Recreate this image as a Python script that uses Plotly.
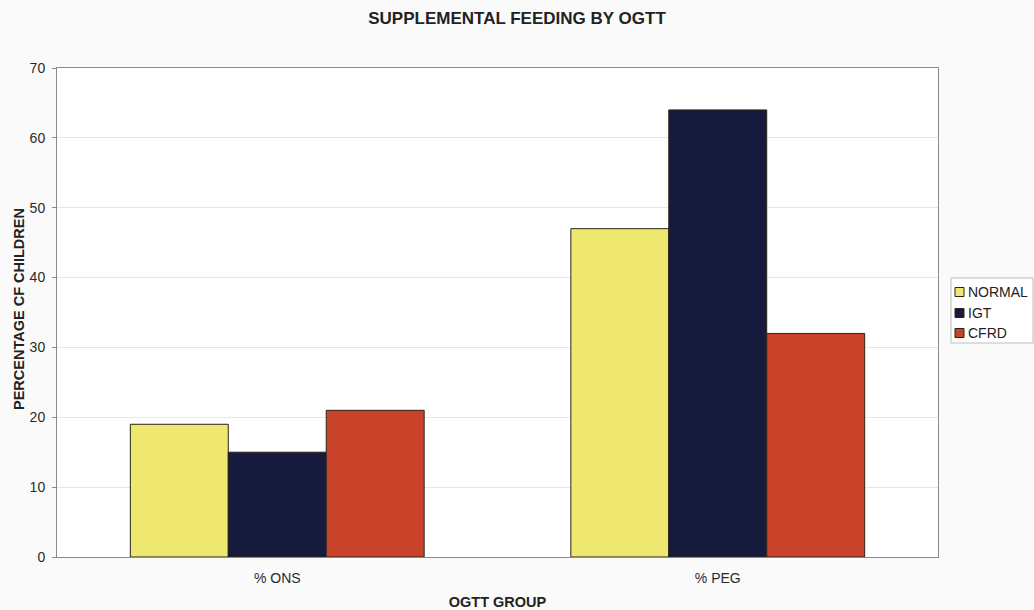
import plotly.graph_objects as go

categories = ["% ONS", "% PEG"]
normal = [19, 47]
igt = [15, 64]
cfrd = [21, 32]
series_names = ["NORMAL", "IGT", "CFRD"]
series_colors = ["#EEE870", "#161A3C", "#C9422A"]

W, H = 1034, 610
ML, MR, MT, MB = 57, 96, 68, 53
PW, PH = W - ML - MR, H - MT - MB


def px_x(x):
    return (x - ML) / PW


def px_y(y):
    return (H - MB - y) / PH


fig = go.Figure()
for name, vals, color in zip(series_names, [normal, igt, cfrd], series_colors):
    fig.add_trace(go.Bar(
        x=categories, y=vals, name=name,
        marker=dict(color=color, line=dict(color="#2A2418", width=1)),
    ))

# Legend box drawn with shapes and annotations (Excel-style compact legend)
shapes = [dict(type="rect", xref="paper", yref="paper",
               x0=px_x(951), x1=px_x(1033), y0=px_y(343), y1=px_y(278),
               line=dict(color="#BDBDBD", width=1), fillcolor="#FFFFFF", layer="above")]
annotations = []
row_y = [292, 313, 333]
for name, color, yc in zip(series_names, series_colors, row_y):
    shapes.append(dict(type="rect", xref="paper", yref="paper",
                       x0=px_x(955), x1=px_x(964), y0=px_y(yc + 4.5), y1=px_y(yc - 4.5),
                       line=dict(color="#2A2418", width=1), fillcolor=color, layer="above"))
    annotations.append(dict(text=name, xref="paper", yref="paper",
                            x=px_x(966), y=px_y(yc), xanchor="left", yanchor="middle",
                            showarrow=False, font=dict(size=14, color="#222222")))

# Vertical y-axis title, placed a little closer to the tick labels
annotations.append(dict(text="<b>PERCENTAGE CF CHILDREN</b>", xref="paper", yref="paper",
                        x=px_x(19), y=px_y(309), xanchor="center", yanchor="middle",
                        textangle=-90, showarrow=False,
                        font=dict(size=14.5, color="#222222")))

fig.update_layout(
    width=W, height=H,
    margin=dict(l=ML, r=MR, t=MT, b=MB),
    paper_bgcolor="#FAFAFA",
    plot_bgcolor="#FFFFFF",
    barmode="group",
    bargap=0.333,
    bargroupgap=0,
    showlegend=False,
    font=dict(family="Liberation Sans, Arial, sans-serif", color="#2A2A2A", size=14),
    title=dict(text="<b>SUPPLEMENTAL FEEDING BY OGTT</b>", x=0.5, xanchor="center",
               y=1 - 18 / H, yanchor="middle", font=dict(size=17, color="#222222")),
    shapes=shapes,
    annotations=annotations,
)
fig.update_xaxes(
    automargin=False,
    title=dict(text="<b>OGTT GROUP</b>", font=dict(size=14.5, color="#222222")),
    showline=True, linecolor="#8A8A8A", linewidth=1, mirror=True,
    ticks="", tickfont=dict(size=14), ticklabelstandoff=8,
)
fig.update_yaxes(
    automargin=False,
    range=[0, 70], dtick=10,
    showgrid=True, gridcolor="#E6E6E6", gridwidth=1,
    showline=True, linecolor="#8A8A8A", linewidth=1, mirror=True,
    ticks="outside", ticklen=4, tickcolor="#8A8A8A", tickfont=dict(size=14),
    ticklabelstandoff=4,
    zeroline=False,
)

fig.write_html("out.html")
